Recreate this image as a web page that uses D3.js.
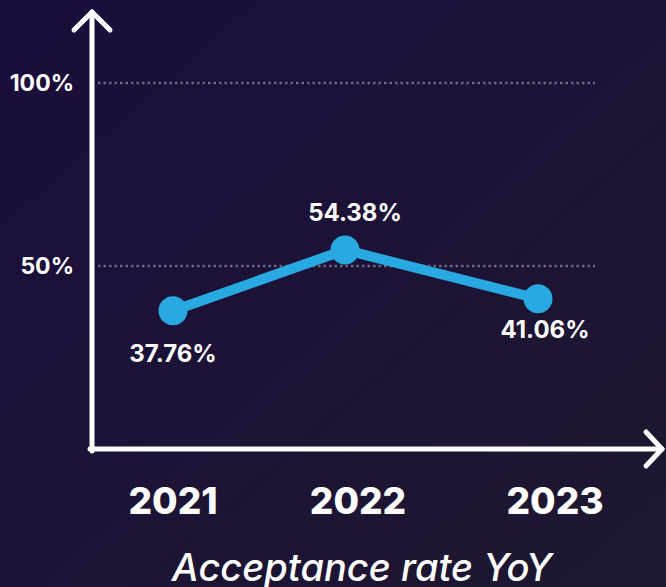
<!DOCTYPE html>
<html>
<head>
<meta charset="utf-8">
<script src="https://cdn.jsdelivr.net/npm/d3@7"></script>
<style>
  html, body { margin: 0; padding: 0; background: #1b0f38; }
  svg { display: block; }
  text { font-family: Inter, "Open Sans", sans-serif; fill: #ffffff; }
</style>
</head>
<body>
<div id="chart"></div>
<script>
// data
var years = ["2021", "2022", "2023"];
var rates = [37.76, 54.38, 41.06];
var tickValues = [50, 100];
var tickLabels = ["50%", "100%"];
var rateLabels = ["37.76%", "54.38%", "41.06%"];
var title = "Acceptance rate YoY";

var width = 666, height = 587;

var svg = d3.select("#chart").append("svg")
    .attr("width", width)
    .attr("height", height);

// background gradient
var defs = svg.append("defs");
var grad = defs.append("linearGradient")
    .attr("id", "bg")
    .attr("x1", "0%").attr("y1", "0%")
    .attr("x2", "100%").attr("y2", "100%");
grad.append("stop").attr("offset", "0%").attr("stop-color", "#1b0d3c");
grad.append("stop").attr("offset", "100%").attr("stop-color", "#1e1830");
svg.append("rect")
    .attr("width", width).attr("height", height)
    .attr("fill", "url(#bg)");

// scales (years are not evenly spaced in the original)
var x = d3.scaleOrdinal().domain(years).range([173, 345, 538]);
var y = d3.scaleLinear().domain([0, 100]).range([449, 83]);

var axisX = 92;

// gridlines
svg.selectAll(".grid")
    .data(tickValues)
    .enter().append("line")
    .attr("class", "grid")
    .attr("x1", axisX + 6).attr("x2", 595)
    .attr("y1", function (d) { return y(d); })
    .attr("y2", function (d) { return y(d); })
    .attr("stroke", "#6e6880")
    .attr("stroke-width", 2.5)
    .attr("stroke-dasharray", "2.5,3");

// tick labels
svg.selectAll(".tick-label")
    .data(tickValues)
    .enter().append("text")
    .attr("class", "tick-label")
    .attr("x", 74)
    .attr("y", function (d) { return y(d); })
    .attr("dy", "0.36em")
    .attr("text-anchor", "end")
    .attr("font-size", 23)
    .attr("font-weight", 700)
    .text(function (d, i) { return tickLabels[i]; });

// axes with arrows
var axes = svg.append("g")
    .attr("fill", "none")
    .attr("stroke", "#ffffff")
    .attr("stroke-width", 5)
    .attr("stroke-linecap", "round")
    .attr("stroke-linejoin", "round");

var y0 = y(0);
axes.append("path")
    .attr("d", "M" + axisX + "," + (y0 + 2) + "V12");
axes.append("path")
    .attr("d", "M" + (axisX - 18) + ",30L" + axisX + ",12L" + (axisX + 18) + ",30");
axes.append("path")
    .attr("d", "M" + (axisX - 2) + "," + y0 + "H662");
axes.append("path")
    .attr("d", "M646," + (y0 - 17) + "L662," + y0 + "L646," + (y0 + 17));

// line
var line = d3.line()
    .x(function (d, i) { return x(years[i]); })
    .y(function (d) { return y(d); });

svg.append("path")
    .datum(rates)
    .attr("fill", "none")
    .attr("stroke", "#29a9e1")
    .attr("stroke-width", 10)
    .attr("stroke-linejoin", "round")
    .attr("d", line);

svg.selectAll(".dot")
    .data(rates)
    .enter().append("circle")
    .attr("class", "dot")
    .attr("cx", function (d, i) { return x(years[i]); })
    .attr("cy", function (d) { return y(d); })
    .attr("r", 14.5)
    .attr("fill", "#29a9e1");

// value labels (above for peak, below otherwise)
var labelDx = [0, 10, 7];
var labelDy = [43, -38, 31];
svg.selectAll(".value-label")
    .data(rates)
    .enter().append("text")
    .attr("class", "value-label")
    .attr("x", function (d, i) { return x(years[i]) + labelDx[i]; })
    .attr("y", function (d, i) { return y(d) + labelDy[i]; })
    .attr("dy", "0.36em")
    .attr("text-anchor", "middle")
    .attr("font-size", 24)
    .attr("font-weight", 700)
    .text(function (d, i) { return rateLabels[i]; });

// year labels
var yearDx = [0, 13, 17];
svg.selectAll(".year")
    .data(years)
    .enter().append("text")
    .attr("class", "year")
    .attr("x", function (d, i) { return x(d) + yearDx[i]; })
    .attr("y", 501)
    .attr("dy", "0.36em")
    .attr("text-anchor", "middle")
    .attr("font-size", 37)
    .attr("font-weight", 800)
    .text(function (d) { return d; });

// title
svg.append("text")
    .attr("x", 362)
    .attr("y", 567)
    .attr("dy", "0.36em")
    .attr("text-anchor", "middle")
    .attr("font-size", 38)
    .attr("font-style", "italic")
    .attr("font-weight", 500)
    .text(title);
</script>
</body>
</html>
